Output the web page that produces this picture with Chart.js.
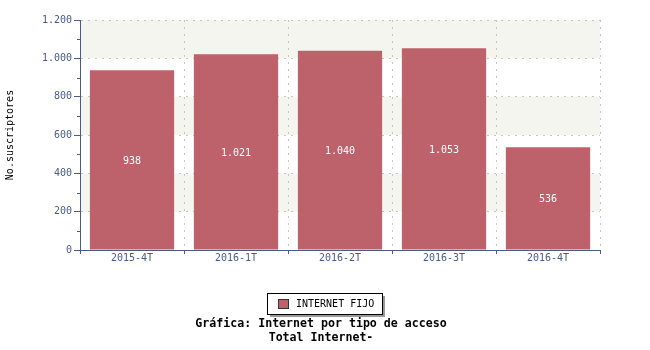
<!DOCTYPE html>
<html>
<head>
<meta charset="utf-8">
<script src="https://cdn.jsdelivr.net/npm/chart.js@4"></script>
<style>
  body { margin: 0; background: #fff; }
  canvas { display: block; }
</style>
</head>
<body>
<canvas id="bar-chart" width="650" height="350"></canvas>
<script>
var categories = ["2015-4T", "2016-1T", "2016-2T", "2016-3T", "2016-4T"];
var suscriptores = [938, 1021, 1040, 1053, 536];
var seriesName = "INTERNET FIJO";
var axisTitle = "No.suscriptores";
var titleLines = ["Gráfica: Internet por tipo de acceso", "Total Internet-"];

var MONO = "'DejaVu Sans Mono', 'Liberation Mono', monospace";
var axisColor = "#4b5a84";
var barColor = "#bd616b";
var gridColor = "#c6c6c6";

function fmt(v) {
    return String(v).replace(/\B(?=(\d{3})+(?!\d))/g, ".");
}

// bandas grises, marcas menores, etiquetas de valores, leyenda y titulo
var extras = {
    id: "extras",
    beforeDraw: function (chart) {
        var ctx = chart.ctx, a = chart.chartArea, y = chart.scales.y;
        ctx.save();
        ctx.fillStyle = "#f5f5f0";
        for (var v = 200; v < 1200; v += 400) {
            var top = y.getPixelForValue(v + 200), bot = y.getPixelForValue(v);
            ctx.fillRect(a.left, top, a.right - a.left, bot - top);
        }
        ctx.restore();
    },
    afterDatasetsDraw: function (chart) {
        var ctx = chart.ctx;
        var meta = chart.getDatasetMeta(0);
        ctx.save();
        ctx.fillStyle = "#ffffff";
        ctx.font = "10px " + MONO;
        ctx.textAlign = "center";
        ctx.textBaseline = "middle";
        meta.data.forEach(function (bar, i) {
            ctx.fillText(fmt(suscriptores[i]), bar.x, (bar.y + bar.base) / 2 + 1.5);
        });
        ctx.restore();
    },
    afterDraw: function (chart) {
        var ctx = chart.ctx, y = chart.scales.y, a = chart.chartArea;
        ctx.save();
        // marcas menores
        ctx.strokeStyle = axisColor;
        ctx.lineWidth = 1;
        ctx.beginPath();
        for (var v = 100; v < 1200; v += 200) {
            var py = Math.round(y.getPixelForValue(v)) + 0.5;
            ctx.moveTo(a.left - 3, py);
            ctx.lineTo(a.left, py);
        }
        ctx.stroke();

        // leyenda
        var lx = 267, ly = 293, lw = 115, lh = 21;
        ctx.fillStyle = "#999999";
        ctx.fillRect(lx + 3, ly + 3, lw, lh);
        ctx.fillStyle = "#ffffff";
        ctx.fillRect(lx, ly, lw, lh);
        ctx.strokeStyle = "#000000";
        ctx.strokeRect(lx + 0.5, ly + 0.5, lw, lh);
        ctx.fillStyle = barColor;
        ctx.fillRect(278, 299, 10, 9);
        ctx.strokeStyle = "#333333";
        ctx.strokeRect(278.5, 299.5, 10, 9);
        ctx.fillStyle = "#000000";
        ctx.font = "10px " + MONO;
        ctx.textAlign = "left";
        ctx.textBaseline = "middle";
        ctx.fillText(seriesName, 296, 304);

        // titulo
        ctx.font = "bold 11.6px " + MONO;
        ctx.textAlign = "center";
        ctx.fillText(titleLines[0], 321, 324);
        ctx.fillText(titleLines[1], 321, 338);
        ctx.restore();
    }
};

new Chart(document.getElementById("bar-chart"), {
    type: "bar",
    data: {
        labels: categories,
        datasets: [{
            label: seriesName,
            data: suscriptores,
            backgroundColor: barColor,
            borderWidth: 0,
            barPercentage: 0.81,
            categoryPercentage: 1.0
        }]
    },
    options: {
        responsive: false,
        animation: false,
        layout: { padding: { top: 20, right: 50, left: 0, bottom: 0 } },
        plugins: {
            legend: { display: false },
            tooltip: { enabled: false }
        },
        scales: {
            x: {
                afterFit: function (s) { s.height = 100; },
                grid: {
                    offset: true,
                    color: gridColor,
                    tickColor: axisColor,
                    tickLength: 4,
                    tickBorderDash: []
                },
                border: { color: axisColor, dash: [2, 5] },
                ticks: {
                    color: axisColor,
                    font: { family: MONO, size: 10 },
                    padding: -2,
                    maxRotation: 0
                }
            },
            y: {
                min: 0,
                max: 1200,
                afterFit: function (s) { s.width = 80; },
                grid: {
                    color: gridColor,
                    tickColor: axisColor,
                    tickLength: 6,
                    tickBorderDash: []
                },
                border: { color: axisColor, dash: [2, 5] },
                ticks: {
                    stepSize: 200,
                    color: axisColor,
                    font: { family: MONO, size: 10 },
                    padding: 2,
                    callback: function (v) { return fmt(v); }
                },
                title: {
                    display: true,
                    text: axisTitle,
                    color: "#000000",
                    font: { family: MONO, size: 10 },
                    padding: { top: 4, bottom: 0 }
                }
            }
        }
    },
    plugins: [extras]
});
</script>
</body>
</html>
